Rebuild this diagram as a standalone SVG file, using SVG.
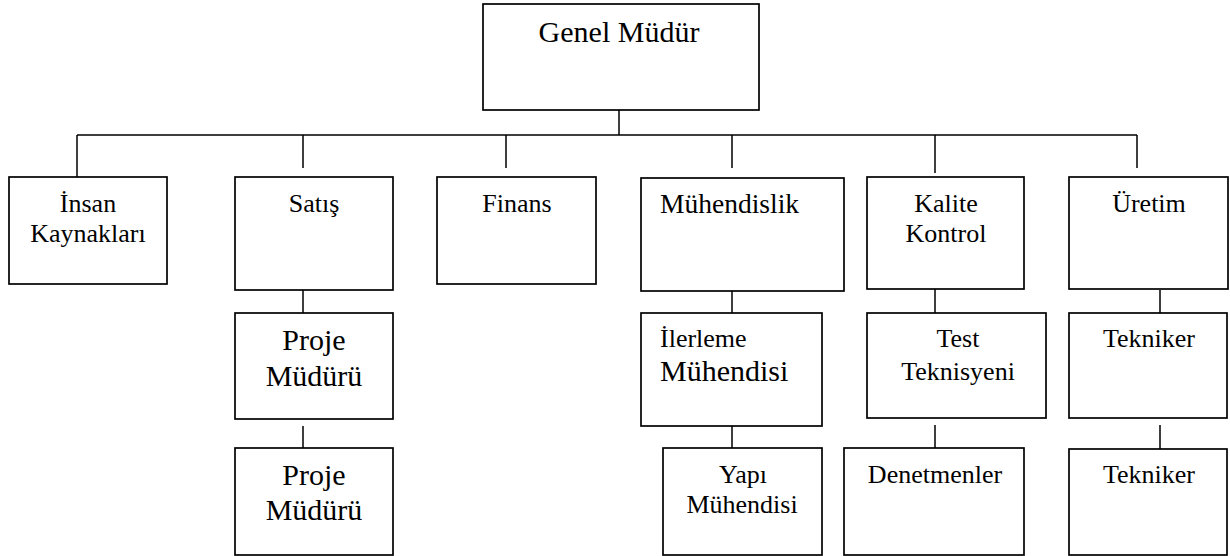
<svg xmlns="http://www.w3.org/2000/svg" width="1230" height="556" viewBox="0 0 1230 556">
<style>
.box{fill:#fff;stroke:#000;stroke-width:1.7}
.ln{stroke:#000;stroke-width:1.5;fill:none}
text{font-family:'Liberation Serif','DejaVu Serif',serif;font-size:26px;fill:#000}
.c{text-anchor:middle}
.big{font-size:30px}
</style>
<rect width="1230" height="556" fill="#fff"/>
<g id="connectors">
<path class="ln" d="M619 110V135M77 135H1137M77 135V177M303 135V168M506 135V168M732 135V168M935 135V173M1137 135V168"/>
<path class="ln" d="M303 290V313M303 426V450M732 290V313M732 426V448M935 289V313M935 425V448M1160 290V313M1160 425V449"/>
</g>
<g id="genel-mudur"><rect class="box" x="483" y="4" width="276" height="106"/><text class="c big" x="619" y="42" font-family="Liberation Serif">Genel Müdür</text></g>
<g id="insan-kaynaklari"><rect class="box" x="9" y="177" width="158" height="107"/><text class="c" x="88" y="212" font-family="Liberation Serif">İnsan</text><text class="c" x="88" y="242" font-family="Liberation Serif">Kaynakları</text></g>
<g id="satis"><rect class="box" x="235" y="177" width="158" height="113"/><text class="c" x="314" y="212" font-family="Liberation Serif">Satış</text></g>
<g id="finans"><rect class="box" x="437" y="177" width="159" height="107"/><text class="c" x="517" y="212" font-family="Liberation Serif">Finans</text></g>
<g id="muhendislik"><rect class="box" x="641" y="178" width="203" height="113"/><text x="660" y="213" font-family="Liberation Serif" style="font-size:27.5px">Mühendislik</text></g>
<g id="kalite-kontrol"><rect class="box" x="867" y="177" width="157" height="112"/><text class="c" x="946" y="212" font-family="Liberation Serif">Kalite</text><text class="c" x="946" y="242" font-family="Liberation Serif">Kontrol</text></g>
<g id="uretim"><rect class="box" x="1069" y="177" width="159" height="112"/><text class="c" x="1149" y="212" font-family="Liberation Serif">Üretim</text></g>
<g id="proje-muduru-1"><rect class="box" x="235" y="313" width="158" height="106"/><text class="c big" x="314" y="350" font-family="Liberation Serif">Proje</text><text class="c big" x="314" y="386" font-family="Liberation Serif">Müdürü</text></g>
<g id="proje-muduru-2"><rect class="box" x="235" y="448" width="158" height="107"/><text class="c big" x="314" y="485" font-family="Liberation Serif">Proje</text><text class="c big" x="314" y="520" font-family="Liberation Serif">Müdürü</text></g>
<g id="ilerleme-muhendisi"><rect class="box" x="641" y="313" width="181" height="113"/><text x="660" y="347" font-family="Liberation Serif">İlerleme</text><text class="big" x="660" y="381" font-family="Liberation Serif">Mühendisi</text></g>
<g id="yapi-muhendisi"><rect class="box" x="663" y="448" width="159" height="107"/><text class="c" x="743" y="483" font-family="Liberation Serif">Yapı</text><text class="c" x="742" y="513" font-family="Liberation Serif">Mühendisi</text></g>
<g id="test-teknisyeni"><rect class="box" x="867" y="313" width="179" height="105"/><text class="c" x="958" y="347" font-family="Liberation Serif">Test</text><text class="c" x="958" y="380" font-family="Liberation Serif">Teknisyeni</text></g>
<g id="denetmenler"><rect class="box" x="844" y="448" width="180" height="107"/><text class="c" x="935" y="483" font-family="Liberation Serif">Denetmenler</text></g>
<g id="tekniker-1"><rect class="box" x="1069" y="313" width="158" height="105"/><text class="c" x="1149" y="347" font-family="Liberation Serif">Tekniker</text></g>
<g id="tekniker-2"><rect class="box" x="1069" y="449" width="158" height="106"/><text class="c" x="1149" y="483" font-family="Liberation Serif">Tekniker</text></g>
</svg>
